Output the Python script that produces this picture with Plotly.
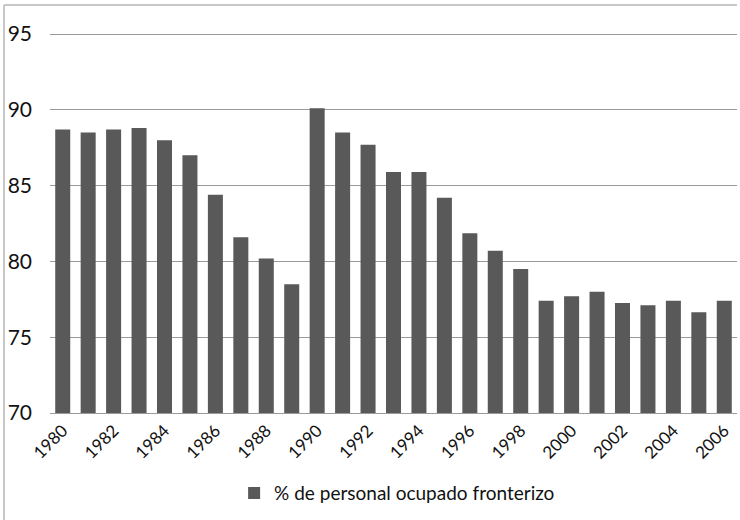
import plotly.graph_objects as go

years = list(range(1980, 2007))
values = [88.7, 88.5, 88.7, 88.8, 88.0, 87.0, 84.4, 81.6, 80.2, 78.5,
          90.1, 88.5, 87.7, 85.9, 85.9, 84.2, 81.85, 80.7, 79.5, 77.4,
          77.7, 78.0, 77.25, 77.1, 77.4, 76.65, 77.4]
series_name = "% de personal ocupado fronterizo"
y_ticks = [70, 75, 80, 85, 90, 95]
x_ticks = list(range(1980, 2007, 2))

FONT = "Lato, sans-serif"

fig = go.Figure()
fig.add_trace(go.Bar(x=years, y=values, name=series_name,
                     marker=dict(color="#595959", line=dict(width=0)),
                     showlegend=True))

fig.update_layout(
    width=740, height=520,
    margin=dict(l=50, r=3, t=31, b=107),
    paper_bgcolor="white", plot_bgcolor="white",
    bargap=0.41,
    font=dict(family=FONT, color="#111111"),
    showlegend=True,
    legend=dict(orientation="h", x=0.268, xanchor="left", y=-0.21, yanchor="middle",
                font=dict(size=19, family=FONT),
                bgcolor="rgba(0,0,0,0)"),
    xaxis=dict(range=[1979.5, 2006.5], tickvals=x_ticks,
               ticktext=[str(t) for t in x_ticks], tickangle=-45,
               tickfont=dict(size=17, family=FONT), showgrid=False,
               showline=True, linecolor="#9a9a9a", linewidth=1,
               ticks="", zeroline=False, automargin=False),
    yaxis=dict(range=[70, 95.2], tickvals=y_ticks, tickfont=dict(size=21, family=FONT),
               showgrid=True, gridcolor="#9a9a9a", gridwidth=1, zeroline=False,
               showline=False, ticks="", ticklabelstandoff=17, automargin=False),
    shapes=[
        dict(type="line", xref="paper", yref="paper", x0=-0.067, x1=1.0,
             y0=1.068, y1=1.068, line=dict(color="#c8c8c8", width=2)),
        dict(type="line", xref="paper", yref="paper", x0=-0.067, x1=-0.067,
             y0=1.068, y1=-0.3, line=dict(color="#c8c8c8", width=2)),
    ],
)

fig.write_html("out.html", config={"displayModeBar": False},
               post_script="document.body.style.margin='0';document.body.style.overflow='hidden';")
